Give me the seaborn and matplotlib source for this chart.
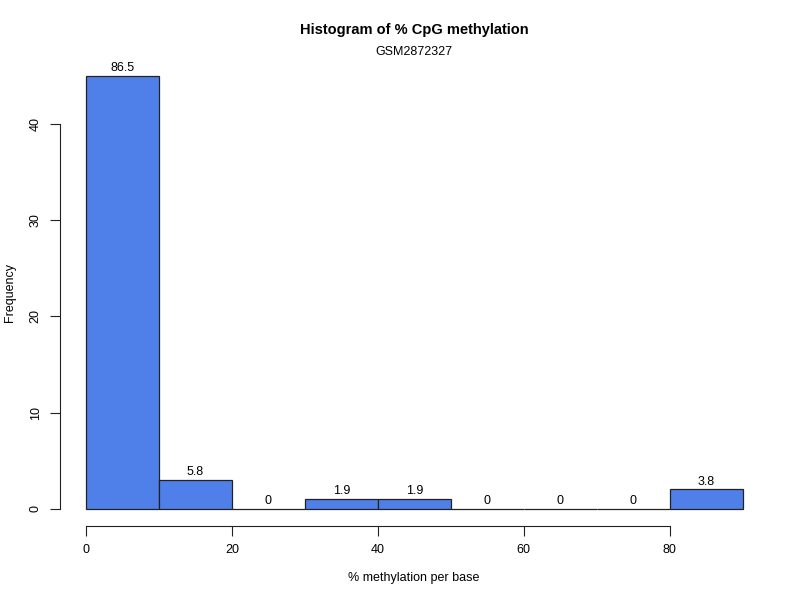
import numpy as np
import seaborn as sns
import matplotlib.pyplot as plt

sns.set_style('white')
plt.rcParams['font.family'] = ['Liberation Sans', 'DejaVu Sans']
plt.rcParams['text.color'] = 'black'
plt.rcParams['xtick.color'] = 'black'
plt.rcParams['ytick.color'] = 'black'

# data
bin_edges = [0, 10, 20, 30, 40, 50, 60, 70, 80, 90]
counts = [45, 3, 0, 1, 1, 0, 0, 0, 2]
pct_labels = ['86.5', '5.8', '0', '1.9', '1.9', '0', '0', '0', '3.8']
x_ticks = [0, 20, 40, 60, 80]
y_ticks = [0, 10, 20, 30, 40]

centers = [(a + b) / 2 for a, b in zip(bin_edges[:-1], bin_edges[1:])]

fig = plt.figure(figsize=(8, 6), dpi=100)
ax = fig.add_axes([0.0746, 0.1233, 0.8866, 0.779])

sns.histplot(x=centers, weights=counts, bins=bin_edges, color='#4F7FE8',
             alpha=1, edgecolor='#222222', linewidth=0.9, ax=ax)

for c, n, lab in zip(centers, counts, pct_labels):
    ax.text(c, n + 0.2, lab, ha='center', va='bottom', fontsize=9)

ax.set_xlim(-3.6, 93.6)
ax.set_ylim(-1.8, 46.8)
ax.set_xticks(x_ticks)
ax.set_yticks(y_ticks)
ax.set_yticklabels([str(t) for t in y_ticks], rotation=90, va='center')
ax.tick_params(axis='both', which='both', direction='out', length=7,
               width=0.8, color='#222222', labelsize=9, pad=6,
               bottom=True, left=True)

for s in ['top', 'right']:
    ax.spines[s].set_visible(False)
ax.spines['bottom'].set_bounds(0, 80)
ax.spines['left'].set_bounds(0, 40)
for s in ['bottom', 'left']:
    ax.spines[s].set_color('#222222')
    ax.spines[s].set_linewidth(0.8)

ax.set_xlabel('')
ax.set_ylabel('')
fig.text(0.5175, 1 - 578 / 600, '% methylation per base', ha='center',
         va='center', fontsize=9)
fig.text(10 / 800, 1 - 292 / 600, 'Frequency', ha='center', va='center',
         rotation=90, fontsize=9)

fig.text(0.5175, 1 - 30 / 600, 'Histogram of % CpG methylation', ha='center',
         va='center', fontsize=10.5, fontweight='bold')
fig.text(0.5175, 1 - 52 / 600, 'GSM2872327', ha='center', va='center',
         fontsize=9)

fig.savefig('out.png', dpi=100)
